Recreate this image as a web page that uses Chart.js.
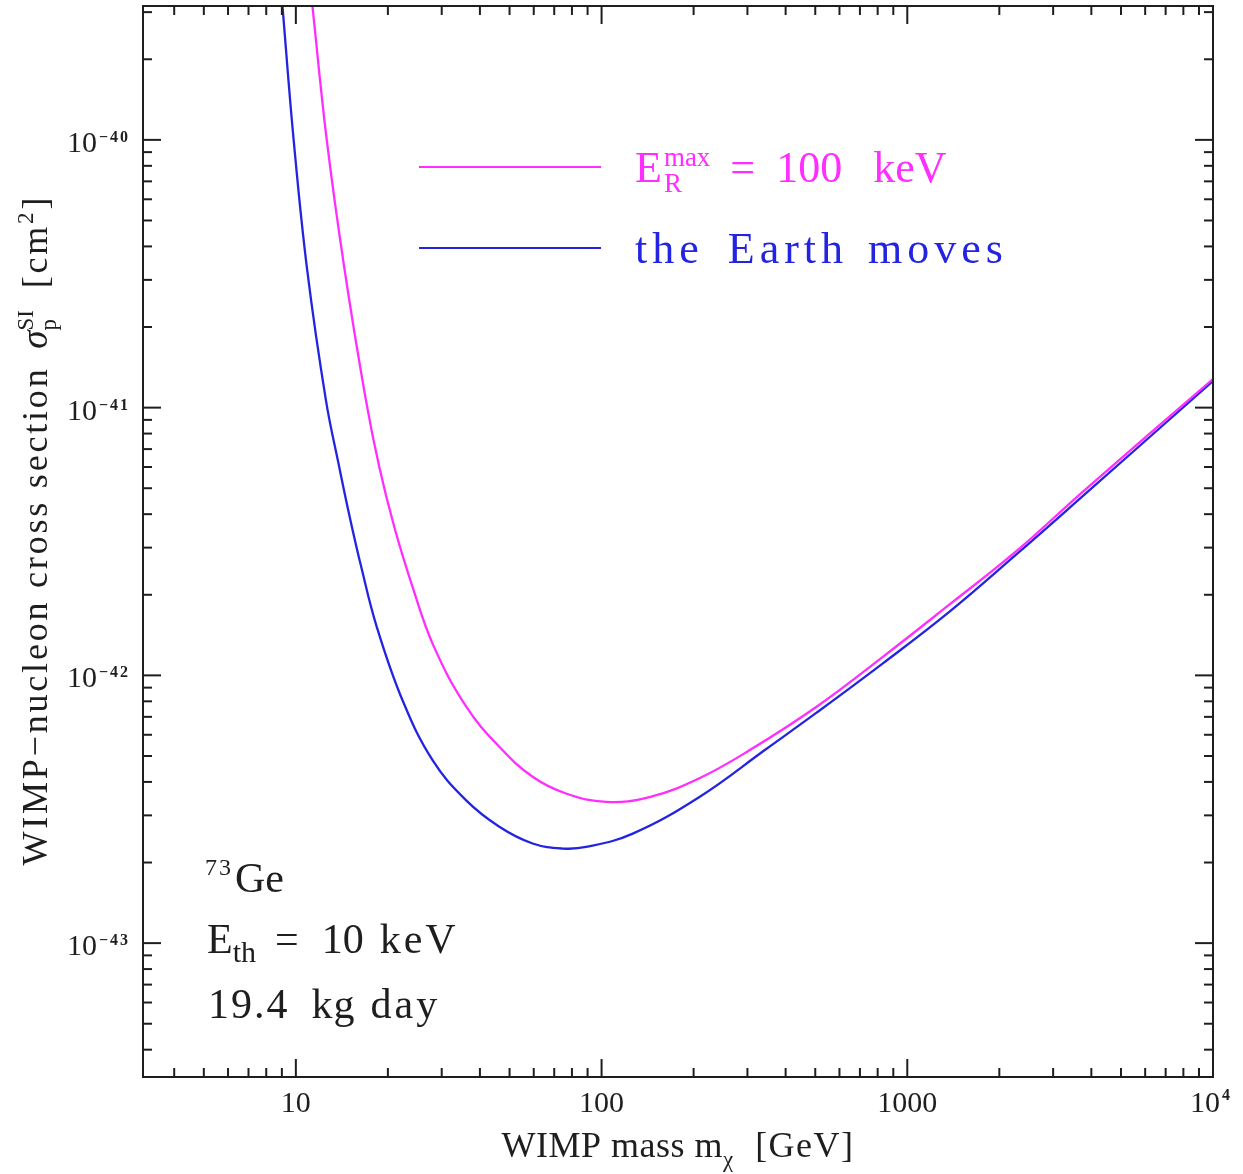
<!DOCTYPE html>
<html>
<head>
<meta charset="utf-8">
<title>WIMP exclusion</title>
<script src="https://cdn.jsdelivr.net/npm/chart.js@4.4.1/dist/chart.umd.min.js"></script>
<style>
  html, body { margin: 0; padding: 0; background: #fff; }
  #chart { display: block; }
</style>
</head>
<body>
<canvas id="chart" width="1243" height="1174"></canvas>
<script>
/* ============================
   DATA
============================ */
// E_R^max = 100 keV
const massEmax  = [11.33, 12.62, 14.44, 16.95, 18.74, 20.98, 24.08, 28.14, 36.0, 46.3, 59.5, 76.5,
                   103.4, 143.4, 209, 304.6, 503.7, 832, 1375, 2274, 3756, 10000];
const sigmaEmax = [3.16e-40, 1.0e-40, 3.267e-41, 1.067e-41, 6.01e-42, 3.589e-42, 2.141e-42, 1.297e-42,
                   7.67e-43, 5.41e-43, 4.18e-43, 3.62e-43, 3.37e-43, 3.51e-43, 4.13e-43, 5.25e-43,
                   7.62e-43, 1.173e-42, 1.84e-42, 2.91e-42, 4.86e-42, 1.279e-41];

// the Earth moves
const massEarth  = [9.04, 9.835, 10.89, 12.54, 13.86, 15.0, 16.36, 18.39, 22.33, 28.0, 36.0, 46.3,
                    59.5, 74.6, 89.0, 126.5, 209, 345.6, 503.7, 832, 1375, 2274, 3756, 10000];
const sigmaEarth = [3.16e-40, 1.0e-40, 3.267e-41, 1.067e-41, 6.01e-42, 3.91e-42, 2.543e-42, 1.518e-42,
                    8.07e-43, 4.82e-43, 3.42e-43, 2.72e-43, 2.355e-43, 2.255e-43, 2.286e-43, 2.565e-43,
                    3.516e-43, 5.31e-43, 7.24e-43, 1.109e-42, 1.73e-42, 2.83e-42, 4.68e-42, 1.257e-41];

// tick labels
const xMajor    = [10, 100, 1000, 10000];
const xTickText = ['10', '100', '1000', '10'];
const xTickExp  = ['', '', '', '4'];
const yMajor    = [1e-40, 1e-41, 1e-42, 1e-43];
const yTickExp  = ['\u221240', '\u221241', '\u221242', '\u221243'];

/* ============================
   STYLE
============================ */
const X_MIN = Math.pow(10, 0.5), X_MAX = 1e4;
const Y_MIN = Math.pow(10, -43.5), Y_MAX = Math.pow(10, -39.5);
const SERIF = '"Liberation Serif", "DejaVu Serif", serif';
const INK = '#1e1e1e';
const MAGENTA = '#ff2eff';
const BLUE = '#2323e2';

/* ============================
   HELPERS
============================ */
function toPoints(xs, ys) {
    return xs.map((m, i) => ({ x: m, y: ys[i] }));
}

// all 1..9 x 10^n values inside a range
function logTicks(min, max, majors) {
    const out = [];
    for (let d = Math.floor(Math.log10(min)); d <= Math.ceil(Math.log10(max)); d++) {
        for (let k = 1; k <= 9; k++) {
            const v = k * Math.pow(10, d);
            if (v < min * 0.999 || v > max * 1.001) continue;
            out.push({ v, major: k === 1 && majors.some(m => Math.abs(m / v - 1) < 1e-6) });
        }
    }
    return out;
}

function seg(ctx, x1, y1, x2, y2) {
    ctx.beginPath();
    ctx.moveTo(x1, y1);
    ctx.lineTo(x2, y2);
    ctx.stroke();
}

// text runs: {t, font, dy, ls, gap, keep}; keep = stacked with next run
function runs(ctx, x, y, parts, draw = true) {
    let kept = 0;
    parts.forEach(p => {
        ctx.font = p.font;
        ctx.letterSpacing = (p.ls || 0) + 'px';
        x += p.gap || 0;
        if (draw) ctx.fillText(p.t, x, y + (p.dy || 0));
        const w = ctx.measureText(p.t).width;
        if (p.keep) { kept = w; return; }
        x += Math.max(w, kept);
        kept = 0;
    });
    ctx.letterSpacing = '0px';
    return x;
}

/* ============================
   FRAME, TICKS & TEXT PLUGIN
============================ */
const framePlugin = {
    id: 'frame',
    afterDatasetsDraw(chart) {
        const { ctx, chartArea: a, scales: { x, y } } = chart;
        ctx.save();
        ctx.strokeStyle = INK;
        ctx.lineWidth = 2;
        ctx.strokeRect(a.left, a.top, a.right - a.left, a.bottom - a.top);

        // inward ticks on all four sides
        logTicks(X_MIN, X_MAX, xMajor).forEach(t => {
            const px = x.getPixelForValue(t.v);
            const len = t.major ? 18 : 9;
            seg(ctx, px, a.bottom, px, a.bottom - len);
            seg(ctx, px, a.top, px, a.top + len);
        });
        logTicks(Y_MIN, Y_MAX, yMajor).forEach(t => {
            const py = y.getPixelForValue(t.v);
            const len = t.major ? 18 : 9;
            seg(ctx, a.left, py, a.left + len, py);
            seg(ctx, a.right, py, a.right - len, py);
        });

        // tick labels
        ctx.fillStyle = INK;
        ctx.textBaseline = 'alphabetic';
        const baseFont = '30px ' + SERIF;
        const expFont = 'bold 16px ' + SERIF;

        yMajor.forEach((v, i) => {
            const py = y.getPixelForValue(v);
            ctx.textAlign = 'right';
            ctx.font = expFont;
            ctx.letterSpacing = '2px';
            const ew = ctx.measureText(yTickExp[i]).width;
            ctx.fillText(yTickExp[i], a.left - 13, py + 2);
            ctx.letterSpacing = '0px';
            ctx.font = baseFont;
            ctx.fillText('10', a.left - 13 - ew - 2, py + 12);
        });

        xMajor.forEach((v, i) => {
            const px = x.getPixelForValue(v);
            ctx.font = baseFont;
            if (!xTickExp[i]) {
                ctx.textAlign = 'center';
                ctx.fillText(xTickText[i], px, a.bottom + 35);
            } else {
                ctx.textAlign = 'left';
                const w = ctx.measureText(xTickText[i]).width;
                ctx.fillText(xTickText[i], px - w / 2 - 8, a.bottom + 35);
                ctx.font = expFont;
                ctx.fillText(xTickExp[i], px + w / 2 - 6, a.bottom + 23);
            }
        });

        ctx.textAlign = 'left';

        // x axis title
        const big = '36px ' + SERIF;
        const small = '23px ' + SERIF;
        const xTitle = [
            { t: 'WIMP mass m', font: big, ls: 0.5 },
            { t: '\u03c7', font: small, dy: 10 },
            { t: '[GeV]', font: big, ls: 1.5, gap: 22 }
        ];
        const xw = runs(ctx, 0, 0, xTitle, false);
        runs(ctx, (a.left + a.right) / 2 - xw / 2, a.bottom + 80, xTitle);

        // y axis title (rotated)
        const yTitle = [
            { t: 'WIMP\u2212nucleon cross section ', font: big, ls: 2.8 },
            { t: '\u03c3', font: 'italic 37px ' + SERIF, gap: 6 },
            { t: 'SI', font: small, dy: -14, keep: true },
            { t: 'p', font: small, dy: 9 },
            { t: ' [cm', font: big, ls: 2.8, gap: 10 },
            { t: '2', font: small, dy: -14 },
            { t: ']', font: big, gap: 3 }
        ];
        const yw = runs(ctx, 0, 0, yTitle, false);
        ctx.save();
        ctx.translate(47, (a.top + a.bottom) / 2 - 10);
        ctx.rotate(-Math.PI / 2);
        runs(ctx, -yw / 2, 0, yTitle);
        ctx.restore();

        // legend
        ctx.lineWidth = 2.2;
        ctx.strokeStyle = MAGENTA;
        seg(ctx, 419, 167, 601, 167);
        ctx.strokeStyle = BLUE;
        seg(ctx, 419, 248, 601, 248);

        const leg = '44px ' + SERIF;
        const legSmall = '27px ' + SERIF;
        ctx.fillStyle = MAGENTA;
        runs(ctx, 635, 182, [
            { t: 'E', font: leg },
            { t: 'max', font: legSmall, dy: -16, gap: 2, keep: true },
            { t: 'R', font: legSmall, dy: 10 },
            { t: '=', font: leg, gap: 20 },
            { t: '100', font: leg, gap: 21 },
            { t: 'keV', font: leg, gap: 31 }
        ]);
        ctx.fillStyle = BLUE;
        runs(ctx, 635, 263, [
            { t: 'the', font: leg, ls: 5 },
            { t: 'Earth', font: leg, ls: 5, gap: 24 },
            { t: 'moves', font: leg, ls: 5, gap: 20 }
        ]);

        // target / threshold / exposure annotation
        const ann = '42px ' + SERIF;
        ctx.fillStyle = INK;
        runs(ctx, 205, 892, [
            { t: '73', font: '24px ' + SERIF, ls: 2, dy: -17 },
            { t: 'Ge', font: ann, gap: 2 }
        ]);
        runs(ctx, 207, 953, [
            { t: 'E', font: ann },
            { t: 'th', font: '30px ' + SERIF, dy: 9 },
            { t: '=', font: ann, gap: 19 },
            { t: '10', font: ann, gap: 23 },
            { t: 'keV', font: ann, ls: 3, gap: 16 }
        ]);
        runs(ctx, 208, 1018, [
            { t: '19.4', font: ann, ls: 2 },
            { t: 'kg', font: ann, ls: 1, gap: 22 },
            { t: 'day', font: ann, ls: 3, gap: 15 }
        ]);

        ctx.restore();
    }
};

/* ============================
   CHART
============================ */
new Chart(document.getElementById('chart'), {
    type: 'scatter',
    data: {
        datasets: [
            {
                label: 'E_R^max = 100 keV',
                data: toPoints(massEmax, sigmaEmax),
                borderColor: MAGENTA,
                borderWidth: 2.3,
                showLine: true,
                pointRadius: 0,
                tension: 0.4
            },
            {
                label: 'the Earth moves',
                data: toPoints(massEarth, sigmaEarth),
                borderColor: BLUE,
                borderWidth: 2.3,
                showLine: true,
                pointRadius: 0,
                tension: 0.4
            }
        ]
    },
    options: {
        responsive: false,
        animation: false,
        devicePixelRatio: 1,
        layout: { padding: { left: 143, top: 6, right: 30, bottom: 97 } },
        plugins: { legend: { display: false }, tooltip: { enabled: false } },
        scales: {
            x: { type: 'logarithmic', min: X_MIN, max: X_MAX, display: false },
            y: { type: 'logarithmic', min: Y_MIN, max: Y_MAX, display: false }
        }
    },
    plugins: [framePlugin]
});
</script>
</body>
</html>
